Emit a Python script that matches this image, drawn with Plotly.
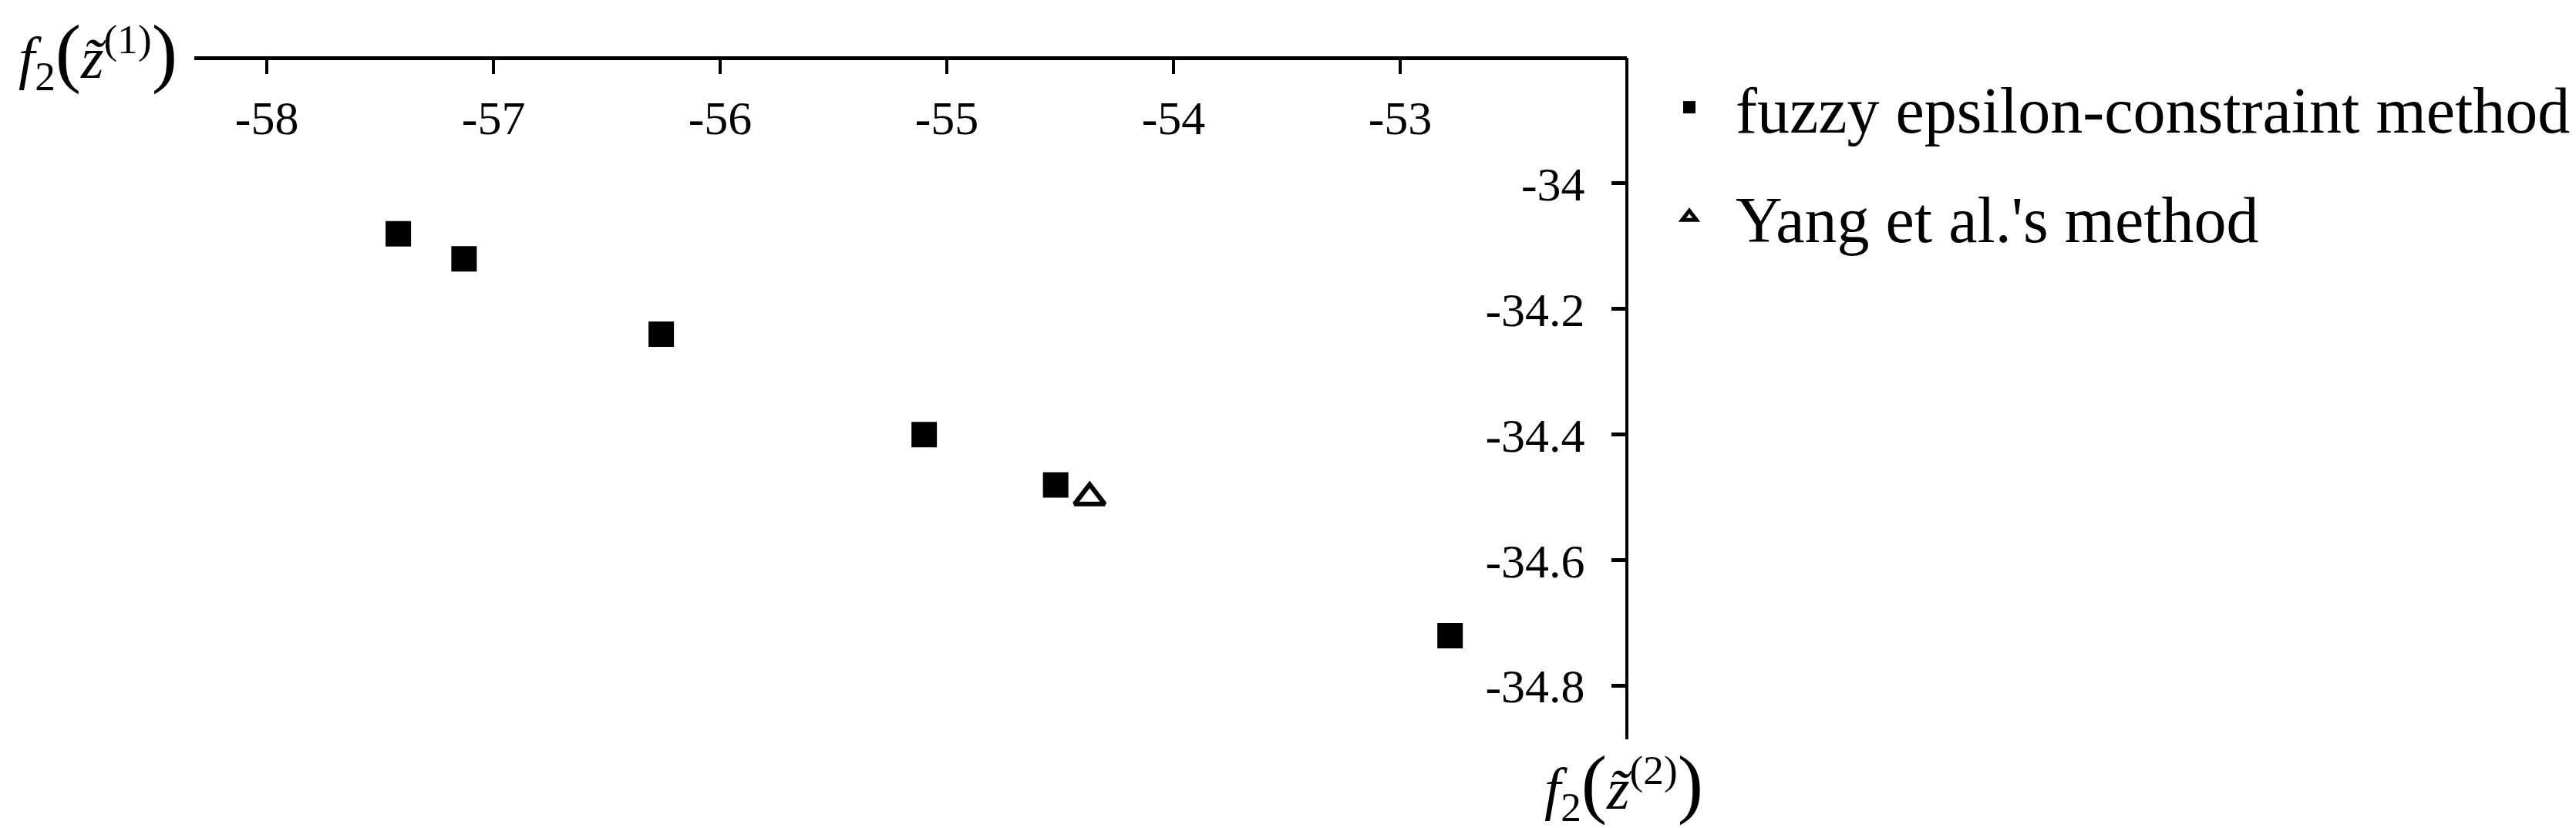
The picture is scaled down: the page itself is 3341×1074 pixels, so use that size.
import plotly.graph_objects as go

# Data
fuzzy_x = [-57.42, -57.13, -56.26, -55.10, -54.52, -52.78]
fuzzy_y = [-34.08, -34.12, -34.24, -34.40, -34.48, -34.72]
yang_x = [-54.37]
yang_y = [-34.50]

x_ticks = [-58, -57, -56, -55, -54, -53]
y_ticks = [-34, -34.2, -34.4, -34.6, -34.8]

series_names = ["fuzzy epsilon-constraint method", "Yang et al.'s method"]

W, H = 3341, 1074
L, R, T, B = 244, 2102, 67, 951

FONT = "Liberation Serif"

fig = go.Figure()
fig.add_trace(go.Scatter(
    x=fuzzy_x, y=fuzzy_y, mode="markers", name=series_names[0],
    legendgroup="a",
    marker=dict(symbol="square", size=33, color="black", line=dict(width=0)),
))
fig.add_trace(go.Scatter(
    x=yang_x, y=yang_y, mode="markers", name=series_names[1],
    legendgroup="b",
    marker=dict(symbol="triangle-up-open", size=34, color="black",
                line=dict(width=6, color="black")),
))

fig.update_layout(
    template="none",
    width=W, height=H,
    margin=dict(l=L, r=W - R, t=T, b=H - B, pad=0),
    paper_bgcolor="white", plot_bgcolor="white",
    font=dict(family=FONT, color="black", size=62),
    showlegend=True,
    legend=dict(
        xref="container", yref="container",
        x=2123 / W, y=1 - 70 / H, xanchor="left", yanchor="top",
        font=dict(family=FONT, size=84, color="black"),
        bgcolor="rgba(0,0,0,0)", borderwidth=0,
        tracegroupgap=30, itemwidth=110,
    ),
    # x axis drawn along the top edge, ticks and labels pointing into the plot
    xaxis=dict(
        side="bottom", anchor="free", position=1.0, automargin=False,
        range=[-58.32, -52.0], tickvals=x_ticks,
        ticktext=[str(v) for v in x_ticks],
        showline=True, linecolor="black", linewidth=4.5,
        ticks="outside", ticklen=18, tickwidth=4, tickcolor="black",
        ticklabelstandoff=4,
        showgrid=False, zeroline=False, mirror=False,
        tickfont=dict(family=FONT, size=62, color="black"),
    ),
    # y axis drawn along the right edge, ticks and labels pointing into the plot
    yaxis=dict(
        side="left", anchor="free", position=1.0, automargin=False,
        range=[-34.885, -33.80], tickvals=y_ticks,
        ticktext=[f"{v:g}" for v in y_ticks],
        showline=True, linecolor="black", linewidth=4,
        ticks="outside", ticklen=18, tickwidth=5, tickcolor="black",
        ticklabelstandoff=22,
        showgrid=False, zeroline=False, mirror=False,
        tickfont=dict(family=FONT, size=62, color="black"),
    ),
)

pw, ph = R - L, B - T
lab1 = "<i>f</i><sub>2</sub><span style='font-size:100px'>(</span><i>z\u0303</i><sup>(1)</sup><span style='font-size:100px'>)</span>"
lab2 = "<i>f</i><sub>2</sub><span style='font-size:100px'>(</span><i>z\u0303</i><sup>(2)</sup><span style='font-size:100px'>)</span>"
fig.add_annotation(text=lab1, xref="paper", yref="paper",
                   x=(119 - L) / pw, y=1 - (62 - T) / ph,
                   xanchor="center", yanchor="middle", showarrow=False,
                   font=dict(family=FONT, size=76, color="black"))
fig.add_annotation(text=lab2, xref="paper", yref="paper",
                   x=(2098 - L) / pw, y=(B - 1010) / ph,
                   xanchor="center", yanchor="middle", showarrow=False,
                   font=dict(family=FONT, size=76, color="black"))

fig.write_html("out.html")
